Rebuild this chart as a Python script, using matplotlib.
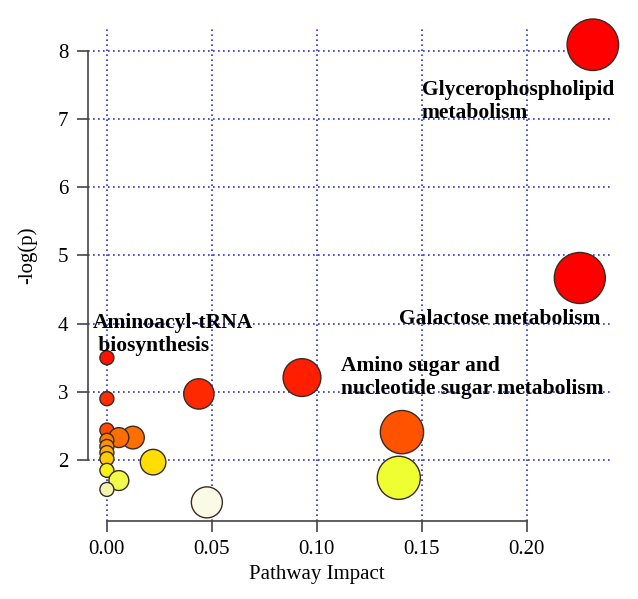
import numpy as np
import matplotlib
matplotlib.use('Agg')
import matplotlib.pyplot as plt
from matplotlib.colors import LinearSegmentedColormap, Normalize

# pathway impact (x) and -log(p) (y), sorted by -log(p) descending
impact = [0.2314, 0.2252, 0.0000, 0.0929, 0.0438, 0.0000, 0.0000, 0.1405,
          0.0124, 0.0057, 0.0000, 0.0000, 0.0000, 0.0000, 0.0220, 0.0000,
          0.1390, 0.0057, 0.0000, 0.0476]
logp = [8.09, 4.67, 3.50, 3.21, 2.97, 2.90, 2.44, 2.41,
        2.33, 2.33, 2.29, 2.20, 2.11, 2.02, 1.97, 1.85,
        1.74, 1.70, 1.57, 1.38]

labels = ['Glycerophospholipid\nmetabolism', 'Galactose metabolism',
          'Amino sugar and\nnucleotide sugar metabolism', 'Aminoacyl-tRNA\n biosynthesis']
label_x = [0.150, 0.139, 0.1114, -0.0067]
label_y = [7.58, 4.22, 3.52, 4.15]

xticks = [0.00, 0.05, 0.10, 0.15, 0.20]
yticks = [2, 3, 4, 5, 6, 7, 8]

# colour scale (heat colours, pale -> yellow -> orange -> red)
nodes = [(1.38, '#fafae6'), (1.57, '#f4f4b0'), (1.74, '#eeff22'), (1.97, '#ffdc00'),
         (2.11, '#ffa800'), (2.33, '#ff6e00'), (2.44, '#ff4800'), (2.97, '#ff2800'),
         (3.50, '#ff1200'), (4.60, '#ff0000'), (8.10, '#ff0000')]
lo, hi = nodes[0][0], nodes[-1][0]
cmap = LinearSegmentedColormap.from_list('heat', [((v - lo) / (hi - lo), c) for v, c in nodes])

plt.rcParams['font.family'] = 'Liberation Serif'

fig = plt.figure(figsize=(6.38, 5.99), dpi=100)
ax = fig.add_axes([88/638, 1 - 521/599, 525/638, 494/599])

x = np.array(impact)
r_px = 7 + 39 * np.sqrt(x)  # bubble radius grows with impact
sizes = (1.44 * r_px) ** 2
ax.scatter(x, logp, s=sizes, c=logp, cmap=cmap, norm=Normalize(lo, hi),
           edgecolors='#3a2a20', linewidths=1.0, zorder=3, clip_on=False)

for lab, lx, ly in zip(labels, label_x, label_y):
    ax.text(lx, ly, lab, fontsize=15.5, fontweight='bold', ha='left', va='top',
            linespacing=1.2, zorder=4)

ax.set_xlim(-0.009, 0.241)
ax.set_ylim(1.107, 8.35)
ax.set_xticks(xticks)
ax.set_xticklabels(['%.2f' % t for t in xticks])
ax.set_yticks(yticks)
ax.grid(True, color='#3030dd', linestyle=(0, (1, 2)), linewidth=1.2, zorder=0)

for s in ['top', 'right']:
    ax.spines[s].set_visible(False)
ax.spines['left'].set_bounds(2, 8)
ax.spines['bottom'].set_bounds(0, 0.20)
for s in ['left', 'bottom']:
    ax.spines[s].set_color('#444444')
    ax.spines[s].set_linewidth(1.2)
ax.tick_params(length=8, width=1.2, color='#444444', labelsize=15, pad=6)

ax.set_xlabel('Pathway Impact', fontsize=15)
ax.set_ylabel('-log(p)', fontsize=15)
ax.xaxis.set_label_coords(0.436, -0.089)
ax.yaxis.set_label_coords(-0.097, 0.538)

fig.savefig('out.png', dpi=100)
